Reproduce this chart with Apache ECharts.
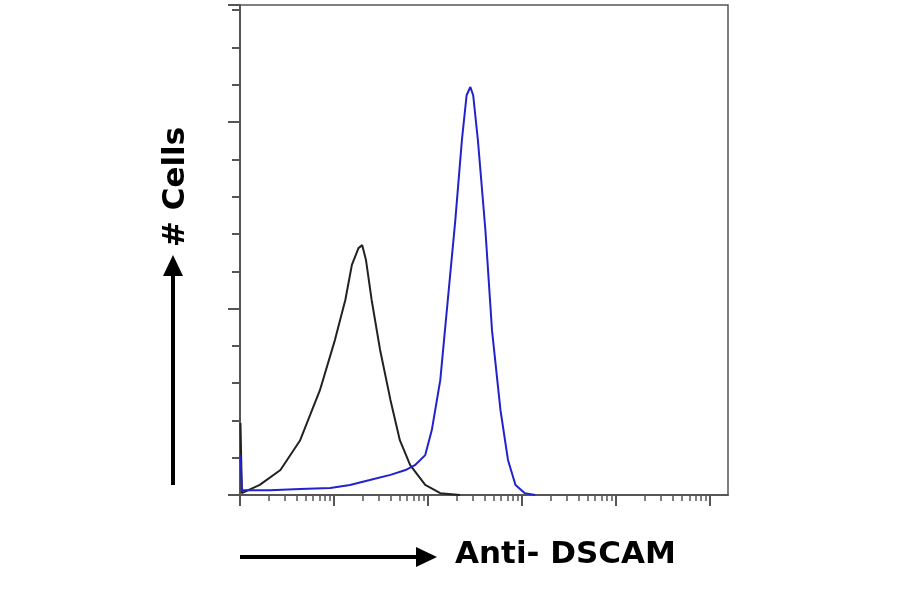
<!DOCTYPE html>
<html><head><meta charset="utf-8">
<script src="https://cdn.jsdelivr.net/npm/echarts@6/dist/echarts.min.js"></script>
<style>html,body{margin:0;background:#fff}#c{width:900px;height:594px}</style>
</head><body><div id="c"></div>
<script>
// x in log10 decades of intensity, y in tick units of count
var isoX = [0.005,0.02,0.21,0.43,0.64,0.85,1.01,1.12,1.19,1.26,1.30,1.34,1.40,1.49,1.60,1.70,1.81,1.97,2.13,2.34];
var isoY = [1.93,0.05,0.27,0.67,1.47,2.81,4.16,5.23,6.17,6.62,6.70,6.30,5.23,3.89,2.55,1.47,0.80,0.27,0.05,0];
var dsX = [0.005,0.02,0.32,0.64,0.96,1.17,1.38,1.60,1.76,1.86,1.97,2.04,2.13,2.21,2.29,2.36,2.41,2.45,2.48,2.53,2.61,2.68,2.77,2.85,2.93,3.03,3.14];
var dsY = [1.07,0.13,0.13,0.16,0.19,0.27,0.40,0.54,0.67,0.80,1.07,1.74,3.08,5.23,7.37,9.52,10.72,10.94,10.72,9.52,7.10,4.42,2.28,0.94,0.27,0.05,0];
var xMax = 5.19, yMax = 13.14;

function zip(a, b) { return a.map(function (v, i) { return [v, b[i]]; }); }
var minorX = [];
for (var d = 0; d < 6; d++) for (var k = 2; k < 10; k++) {
    var v = d + Math.log10(k);
    if (v < xMax) minorX.push(v);
}
var majorX = [0, 1, 2, 3, 4, 5];

var axisLine = {show: true, lineStyle: {color: '#555', width: 2}};
var option = {
    backgroundColor: '#fff',
    animation: false,
    grid: {left: 240, right: 172, top: 5, bottom: 99, show: true, borderColor: '#555', borderWidth: 1.5},
    xAxis: [
        {type: 'value', min: 0, max: xMax, axisLine: axisLine, splitLine: {show: false}, axisLabel: {show: false},
         axisTick: {show: true, inside: false, length: 6, customValues: minorX, lineStyle: {color: '#555', width: 1.5}}},
        {type: 'value', min: 0, max: xMax, position: 'bottom', axisLine: {show: false}, splitLine: {show: false}, axisLabel: {show: false},
         axisTick: {show: true, length: 11, customValues: majorX, lineStyle: {color: '#555', width: 2}}}
    ],
    yAxis: [
        {type: 'value', min: 0, max: yMax, interval: 1, axisLine: axisLine, splitLine: {show: false}, axisLabel: {show: false},
         axisTick: {show: true, length: 8, lineStyle: {color: '#555', width: 2}}},
        {type: 'value', min: 0, max: yMax, interval: 5, position: 'left', axisLine: {show: false}, splitLine: {show: false}, axisLabel: {show: false},
         axisTick: {show: true, length: 12, lineStyle: {color: '#555', width: 2}}}
    ],
    series: [
        {type: 'line', data: zip(isoX, isoY), symbol: 'none', lineStyle: {color: '#222', width: 2}},
        {type: 'line', data: zip(dsX, dsY), symbol: 'none', lineStyle: {color: '#2222cc', width: 2}}
    ],
    graphic: [
        {type: 'line', shape: {x1: 173, y1: 485, x2: 173, y2: 272}, style: {stroke: '#000', lineWidth: 4}},
        {type: 'polygon', shape: {points: [[163, 276], [183, 276], [173, 255]]}, style: {fill: '#000'}},
        {type: 'text', x: 176, y: 187, rotation: Math.PI / 2, style: {text: '# Cells', font: 'bold 31px "DejaVu Sans", sans-serif', fill: '#000', align: 'center', verticalAlign: 'middle'}},
        {type: 'line', shape: {x1: 240, y1: 557, x2: 420, y2: 557}, style: {stroke: '#000', lineWidth: 4}},
        {type: 'polygon', shape: {points: [[416, 547], [416, 567], [437, 557]]}, style: {fill: '#000'}},
        {type: 'text', x: 455, y: 555, style: {text: 'Anti- DSCAM', font: 'bold 31px "DejaVu Sans", sans-serif', fill: '#000', verticalAlign: 'middle'}}
    ]
};
var myChart = echarts.init(document.getElementById('c'));
myChart.setOption(option);
</script></body></html>
